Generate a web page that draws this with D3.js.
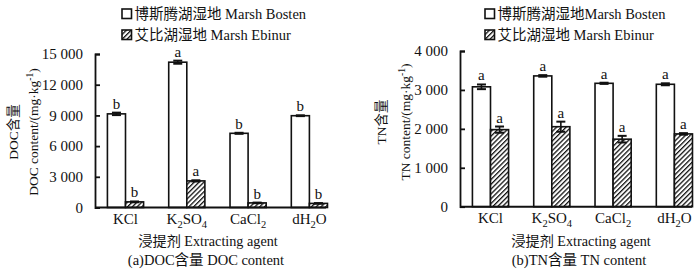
<!DOCTYPE html>
<html>
<head>
<meta charset="utf-8">
<script src="https://cdn.jsdelivr.net/npm/d3@7"></script>
<style>
  body { margin: 0; background: #fff; }
  svg { display: block; }
  svg text { font-family: "Liberation Serif", "Noto Sans CJK SC", serif; fill: #111; }
</style>
</head>
<body>
<div id="chart"></div>
<script>
// categories (digits become subscripts)
const categories = ["KCl", "K2SO4", "CaCl2", "dH2O"];
const seriesKeys = ["Bosten", "Ebinur"];

// (a) DOC content, mg/kg
const docBosten = [9150, 14200, 7250, 8970];
const docBostenErr = [120, 150, 50, 40];
const docEbinur = [550, 2600, 450, 400];
const docEbinurErr = [40, 60, 30, 30];
const docBostenSig = ["b", "a", "b", "b"];
const docEbinurSig = ["b", "a", "b", "b"];
const docTicks = [0, 3000, 6000, 9000, 12000, 15000];

// (b) TN content, mg/kg
const tnBosten = [3080, 3360, 3170, 3145];
const tnBostenErr = [60, 20, 15, 25];
const tnEbinur = [1980, 2055, 1735, 1870];
const tnEbinurErr = [80, 130, 85, 20];
const tnBostenSig = ["a", "a", "a", "a"];
const tnEbinurSig = ["a", "a", "a", "a"];
const tnTicks = [0, 1000, 2000, 3000, 4000];

const W = 700, H = 272;
const svg = d3.select("#chart").append("svg")
  .attr("width", W).attr("height", H);

// hatch pattern
const defs = svg.append("defs");
defs.append("pattern")
  .attr("id", "hatch")
  .attr("patternUnits", "userSpaceOnUse")
  .attr("width", 3.4).attr("height", 3.4)
  .attr("patternTransform", "rotate(45)")
  .call(p => {
    p.append("rect").attr("width", 3.4).attr("height", 3.4).attr("fill", "#fff");
    p.append("line").attr("x1", 0).attr("y1", 0).attr("x2", 0).attr("y2", 3.4)
      .attr("stroke", "#111").attr("stroke-width", 2.6);
  });

const fmt = d3.formatLocale({ decimal: ".", thousands: " ", grouping: [3], currency: ["", ""] }).format(",");

// write text with digits as subscripts
function subText(sel, str) {
  let sub = false;
  str.split(/(\d+)/).filter(s => s.length).forEach(part => {
    const isNum = /^\d+$/.test(part);
    const t = sel.append("tspan").text(part);
    if (isNum && !sub) { t.attr("dy", 4).attr("font-size", "10.5px"); sub = true; }
    else if (!isNum && sub) { t.attr("dy", -4); sub = false; }
  });
}

function drawPanel(cfg) {
  const g = svg.append("g");
  const { axisX, top, bottom, axisLen } = cfg;

  const y = d3.scaleLinear().domain([0, cfg.max]).range([bottom, top]);
  const step = 61.3;
  const c0 = axisX + 30.5;
  const x0 = d3.scaleBand().domain(categories)
    .range([c0 - step / 2, c0 + step * 3.5])
    .paddingInner(0.41).paddingOuter(0.205);
  const x1 = d3.scaleBand().domain(seriesKeys).range([0, x0.bandwidth()]);

  const rows = categories.map((c, i) => ({
    cat: c,
    vals: [
      { key: "Bosten", v: cfg.a[i], e: cfg.aErr[i], s: cfg.aSig[i] },
      { key: "Ebinur", v: cfg.b[i], e: cfg.bErr[i], s: cfg.bSig[i] }
    ]
  }));

  const grp = g.selectAll(".grp").data(rows).join("g")
    .attr("transform", d => `translate(${x0(d.cat)},0)`);

  grp.selectAll("rect").data(d => d.vals).join("rect")
    .attr("x", d => x1(d.key))
    .attr("y", d => y(d.v))
    .attr("width", x1.bandwidth())
    .attr("height", d => y(0) - y(d.v))
    .attr("fill", d => d.key === "Bosten" ? "#fff" : "url(#hatch)")
    .attr("stroke", "#111").attr("stroke-width", 1.6);

  // error bars
  const eb = grp.selectAll(".err").data(d => d.vals).join("g")
    .attr("transform", d => `translate(${x1(d.key) + x1.bandwidth() / 2},0)`)
    .attr("stroke", "#111").attr("stroke-width", 1.6);
  eb.append("line").attr("y1", d => y(d.v - d.e)).attr("y2", d => y(d.v + d.e));
  eb.append("line").attr("x1", -4.5).attr("x2", 4.5)
    .attr("y1", d => y(d.v + d.e)).attr("y2", d => y(d.v + d.e)).attr("stroke-width", 2);
  eb.append("line").attr("x1", -4.5).attr("x2", 4.5)
    .attr("y1", d => y(d.v - d.e)).attr("y2", d => y(d.v - d.e)).attr("stroke-width", 2);

  // significance letters
  grp.selectAll(".sig").data(d => d.vals).join("text")
    .attr("x", d => x1(d.key) + x1.bandwidth() / 2)
    .attr("y", d => y(d.v + d.e) - 4)
    .attr("text-anchor", "middle")
    .attr("font-size", "15px")
    .text(d => d.s);

  // y axis (ticks inside)
  const ya = g.append("g").attr("transform", `translate(${axisX},0)`)
    .call(d3.axisLeft(y).tickValues(cfg.ticks).tickFormat(fmt)
      .tickSizeInner(-5).tickSizeOuter(-5).tickPadding(12));
  ya.attr("font-family", null);
  ya.selectAll("path, line").attr("stroke", "#111").attr("stroke-width", 1.8);
  ya.selectAll("text").attr("font-size", "15px").attr("fill", "#111");

  // x axis
  const xa = g.append("g").attr("transform", `translate(0,${bottom})`)
    .call(d3.axisBottom(x0).tickSize(0).tickPadding(6));
  xa.attr("font-family", null);
  xa.select(".domain").remove();
  xa.append("line").attr("x1", axisX).attr("x2", axisX + axisLen)
    .attr("stroke", "#111").attr("stroke-width", 2);
  xa.selectAll(".tick text").each(function (d) {
    const t = d3.select(this).text("");
    subText(t, d);
  }).attr("font-size", "15px").attr("fill", "#111");

  // y titles
  const cy = cfg.titleY;
  g.append("text")
    .attr("transform", `translate(${cfg.t1x},${cy}) rotate(-90)`)
    .attr("text-anchor", "middle").attr("font-size", "13.5px")
    .text(cfg.yTitle1);
  const t2 = g.append("text")
    .attr("transform", `translate(${cfg.t2x},${cy}) rotate(-90)`)
    .attr("text-anchor", "middle").attr("font-size", "13.5px");
  t2.append("tspan").text(cfg.yTitle2 + "/(mg·kg");
  t2.append("tspan").attr("dy", -5).attr("font-size", "9.5px").text("-1");
  t2.append("tspan").attr("dy", 5).text(")");

  // x title and caption
  g.append("text").attr("x", cfg.titleX).attr("y", 246)
    .attr("text-anchor", "middle").attr("font-size", "14.2px")
    .text("浸提剂 Extracting agent");
  g.append("text").attr("x", cfg.titleX - 2).attr("y", 265)
    .attr("text-anchor", "middle").attr("font-size", "14.5px")
    .text(cfg.caption);

  // legend
  const lg = g.append("g").attr("transform", `translate(${cfg.legX},0)`);
  cfg.legend.forEach((txt, i) => {
    const yy = 14 + i * 21;
    lg.append("rect").attr("x", 0).attr("y", yy - 5).attr("width", 9.5).attr("height", 9.5)
      .attr("fill", i === 0 ? "#fff" : "url(#hatch)")
      .attr("stroke", "#111").attr("stroke-width", 1.6);
    lg.append("text").attr("x", 12.5).attr("y", yy + 4.5)
      .attr("font-size", "14.5px").text(txt);
  });
}

drawPanel({
  axisX: 95, top: 54, bottom: 207.5, axisLen: 231, max: 15000, ticks: docTicks,
  a: docBosten, aErr: docBostenErr, aSig: docBostenSig,
  b: docEbinur, bErr: docEbinurErr, bSig: docEbinurSig,
  yTitle1: "DOC含量", yTitle2: "DOC content", t1x: 18, t2x: 38, titleY: 132,
  titleX: 208,
  caption: "(a)DOC含量 DOC content",
  legX: 122,
  legend: ["博斯腾湖湿地 Marsh Bosten", "艾比湖湿地 Marsh Ebinur"]
});

drawPanel({
  axisX: 460, top: 51, bottom: 206.7, axisLen: 232, max: 4000, ticks: tnTicks,
  a: tnBosten, aErr: tnBostenErr, aSig: tnBostenSig,
  b: tnEbinur, bErr: tnEbinurErr, bSig: tnEbinurSig,
  yTitle1: "TN含量", yTitle2: "TN content", t1x: 386, t2x: 410, titleY: 122,
  titleX: 581,
  caption: "(b)TN含量 TN content",
  legX: 485,
  legend: ["博斯腾湖湿地Marsh Bosten", "艾比湖湿地 Marsh Ebinur"]
});
</script>
</body>
</html>
